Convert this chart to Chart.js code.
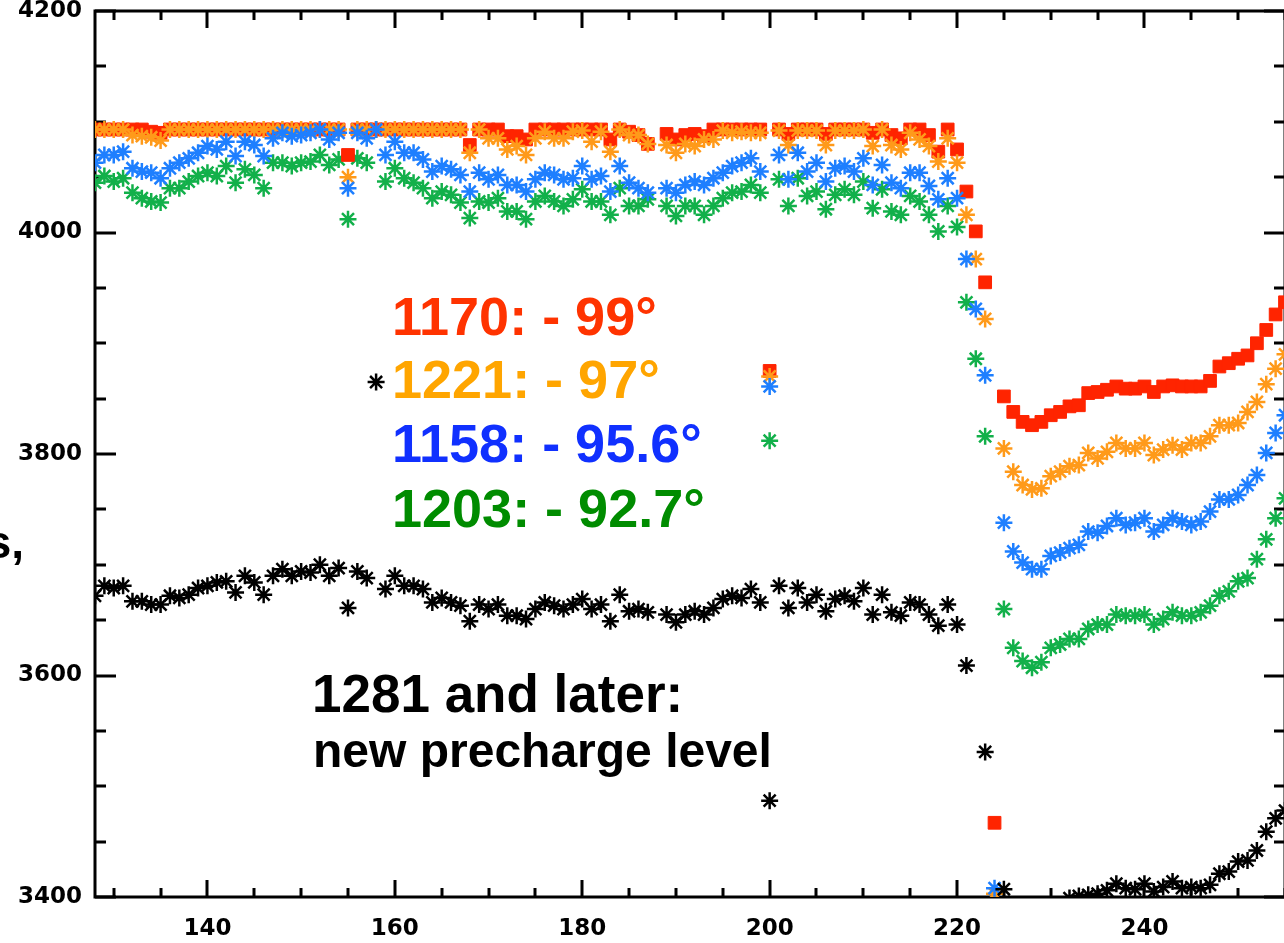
<!DOCTYPE html>
<html><head><meta charset="utf-8">
<script src="https://cdn.jsdelivr.net/npm/chart.js@4.4.1/dist/chart.umd.min.js"></script>
<style>
html,body{margin:0;padding:0;background:#fff;overflow:hidden;width:1284px;height:943px;position:relative;}
#wrap{position:absolute;left:0;top:0;width:1300px;height:943px;}
canvas{display:block;}
.ann{position:absolute;font-family:"Liberation Sans",Arial,sans-serif;font-weight:bold;white-space:nowrap;line-height:1;}
</style></head><body>
<div id="wrap"><canvas id="c" width="1300" height="943"></canvas></div>
<div class="ann" style="left:392px;top:289px;font-size:54px;color:#ff3300;">1170: - 99°</div>
<div class="ann" style="left:392px;top:352px;font-size:54px;color:#ffa500;">1221: - 97°</div>
<div class="ann" style="left:392px;top:416px;font-size:54px;color:#1030ff;">1158: - 95.6°</div>
<div class="ann" style="left:392px;top:481px;font-size:54px;color:#008c00;">1203: - 92.7°</div>
<div class="ann" style="left:312px;top:667px;font-size:53px;color:#000;">1281 and later:</div>
<div class="ann" style="left:313px;top:727px;font-size:48px;color:#000;">new precharge level</div>
<div class="ann" style="left:-200px;width:224px;text-align:right;top:519px;font-size:46px;color:#000;">s,</div>
<script>
// Detector columns (x axis)
const COLUMNS = [128,129,130,131,132,133,134,135,136,137,138,139,140,141,142,143,144,145,146,147,
148,149,150,151,152,153,154,155,156,157,158,159,160,161,162,163,164,165,166,167,
168,169,170,171,172,173,174,175,176,177,178,179,180,181,182,183,184,185,186,187,
188,189,190,191,192,193,194,195,196,197,198,199,200,201,202,203,204,205,206,207,
208,209,210,211,212,213,214,215,216,217,218,219,220,221,222,223,224,225,226,227,
228,229,230,231,232,233,234,235,236,237,238,239,240,241,242,243,244,245,246,247,
248,249,250,251,252,253,254,255];

const X_TICKS = [140,160,180,200,220,240];
const Y_TICKS = [3400,3600,3800,4000,4200];

// 1170: -99°
const S1170 = [
4093,4093,4093,4093,4093,4093,4091,4090,4093,4093,
4093,4093,4093,4093,4093,4093,4093,4093,4093,4093,
4093,4093,4093,4093,4093,4093,4093,4070,4093,4093,
4093,4093,4093,4093,4093,4093,4093,4093,4093,4093,
4079,4093,4093,4093,4087,4087,4084,4093,4093,4093,
4093,4093,4093,4093,4093,4084,4093,4091,4088,4080,
null,4089,4084,4088,4089,4087,4093,4093,4093,4093,
4093,4093,3875,4093,4089,4093,4093,4093,4089,4093,
4093,4093,4093,4090,4093,4088,4085,4093,4093,4088,
4073,4093,4075,4037,4001,3955,3467,3852,3838,3829,
3826,3829,3835,3838,3843,3844,3855,3856,3858,3861,
3859,3859,3861,3856,3861,3862,3861,3861,3861,3866,
3879,3882,3886,3889,3900,3912,3926,3937];

// 1221: -97°
const S1221 = [
4093,4093,4093,4093,4088,4087,4086,4083,4093,4093,
4093,4093,4093,4093,4093,4093,4093,4093,4093,4093,
4093,4093,4093,4093,4093,4093,4093,4050,4093,4093,
4093,4093,4093,4093,4093,4093,4093,4093,4093,4093,
4072,4093,4085,4085,4075,4078,4070,4085,4091,4085,
4085,4091,4092,4082,4091,4073,4093,4088,4088,4080,
null,4079,4072,4080,4078,4084,4084,4092,4090,4091,
4090,4090,3870,4092,4079,4092,4092,4092,4079,4092,
4092,4092,4093,4078,4093,4079,4075,4090,4084,4078,
4064,4085,4063,4016,3976,3922,3403,3805,3784,3772,
3768,3769,3780,3784,3789,3790,3801,3796,3802,3810,
3805,3805,3810,3799,3804,3808,3804,3810,3810,3816,
3826,3826,3828,3838,3847,3863,3877,3890];

// 1158: -95.6°
const S1158 = [
4063,4070,4070,4073,4058,4055,4054,4049,4058,4063,
4067,4072,4078,4075,4082,4069,4082,4079,4069,4085,
4090,4087,4088,4090,4093,4084,4090,4040,4090,4085,
4093,4070,4082,4072,4072,4066,4055,4060,4057,4052,
4037,4054,4048,4052,4043,4043,4037,4048,4054,4052,
4048,4049,4060,4048,4051,4037,4060,4045,4040,4036,
null,4040,4036,4043,4046,4043,4049,4054,4060,4063,
4067,4055,3861,4070,4048,4072,4055,4063,4046,4058,
4060,4055,4067,4043,4061,4045,4040,4054,4054,4042,
4030,4049,4031,3976,3931,3871,3408,3738,3712,3702,
3696,3696,3708,3711,3715,3718,3730,3729,3735,3742,
3736,3738,3742,3730,3736,3742,3739,3736,3739,3748,
3759,3759,3763,3772,3781,3801,3819,3835];

// 1203: -92.7°
const S1203 = [
4045,4051,4046,4049,4036,4031,4028,4027,4040,4040,
4046,4051,4054,4051,4060,4045,4057,4052,4040,4063,
4063,4060,4063,4064,4070,4061,4066,4012,4067,4063,
4093,4046,4058,4049,4045,4040,4031,4037,4034,4027,
4013,4028,4027,4031,4019,4019,4012,4028,4033,4028,
4024,4030,4039,4028,4028,4016,4040,4024,4024,4030,
null,4024,4015,4024,4024,4016,4024,4031,4036,4037,
4043,4036,3812,4048,4024,4049,4033,4037,4021,4034,
4039,4034,4046,4022,4039,4019,4016,4033,4028,4016,
4001,4024,4005,3937,3886,3816,null,3660,3625,3613,
3607,3612,3625,3628,3633,3633,3642,3646,3646,3655,
3654,3654,3655,3646,3651,3657,3654,3654,3657,3663,
3672,3676,3685,3688,3705,3723,3742,3760];

// 1281 and later: new precharge level
const S1281 = [
3672,3681,3679,3681,3667,3667,3664,3664,3672,3670,
3673,3679,3681,3684,3685,3675,3690,3684,3673,3690,
3696,3690,3694,3693,3700,3690,3697,3661,3694,3688,
3865,3678,3690,3681,3681,3678,3666,3670,3666,3663,
3649,3664,3660,3664,3654,3654,3651,3660,3666,3663,
3660,3664,3669,3660,3664,3649,3673,3658,3660,3657,
null,3655,3648,3655,3658,3655,3661,3669,3672,3670,
3678,3666,3487,3681,3661,3679,3666,3673,3658,3669,
3672,3667,3679,3655,3673,3657,3654,3666,3664,3655,
3645,3664,3646,3609,null,3531,null,3407,null,null,
null,null,null,null,3399,3401,3402,3403,3406,3412,
3408,3407,3412,3405,3409,3414,3408,3409,3408,3411,
3421,3423,3432,3433,3442,3459,3471,3478];

const SERIES = [
  {label:'1281', data:S1281, color:'#000000', style:'star', width:2.5, radius:8.5, order:1},
  {label:'1158', data:S1158, color:'#1e7fff', style:'star', width:2.5, radius:8.5, order:2},
  {label:'1221', data:S1221, color:'#ff9a1a', style:'star', width:2.5, radius:8.5, order:3},
  {label:'1170', data:S1170, color:'#ff2400', style:'rect', width:1,   radius:9,   order:4},
  {label:'1203', data:S1203, color:'#12b04a', style:'star', width:2.5, radius:8.5, order:5}
];

const framePlugin = {
  id: 'frame',
  beforeDatasetsDraw(chart) {
    const {ctx, chartArea: a, scales: {x, y}} = chart;
    ctx.save();
    ctx.strokeStyle = '#000';
    ctx.lineWidth = 3;
    ctx.strokeRect(a.left, a.top, a.right - a.left, a.bottom - a.top);
    ctx.beginPath();
    for (let v = 130; v <= x.max; v += 5) {
      const px = Math.round(x.getPixelForValue(v));
      const len = (v % 20 === 0) ? 17 : 9;
      ctx.moveTo(px, a.bottom); ctx.lineTo(px, a.bottom - len);
      ctx.moveTo(px, a.top); ctx.lineTo(px, a.top + len);
    }
    for (let v = y.min; v <= y.max; v += 50) {
      const py = Math.round(y.getPixelForValue(v));
      const len = (v % 200 === 0) ? 21 : 11;
      ctx.moveTo(a.left, py); ctx.lineTo(a.left + len, py);
      ctx.moveTo(a.right, py); ctx.lineTo(a.right - len, py);
    }
    ctx.stroke();
    ctx.restore();
  }
};

const tickFont = {family: '"DejaVu Sans", sans-serif', size: 23, weight: 'bold'};

new Chart(document.getElementById('c'), {
  type: 'line',
  data: {
    labels: COLUMNS,
    datasets: SERIES.map(s => ({
      label: s.label,
      data: s.data,
      showLine: false,
      pointStyle: s.style,
      pointRadius: s.radius,
      pointBorderWidth: s.width,
      pointBorderColor: s.color,
      pointBackgroundColor: s.color,
      order: s.order,
      clip: 0
    }))
  },
  options: {
    responsive: false,
    animation: false,
    events: [],
    layout: {padding: {top: 9, right: 15, left: 0, bottom: 0}},
    plugins: {legend: {display: false}, tooltip: {enabled: false}},
    scales: {
      x: {
        type: 'linear', min: 128, max: 255,
        grid: {display: false, drawTicks: false},
        border: {display: false},
        afterBuildTicks: s => { s.ticks = X_TICKS.map(v => ({value: v})); },
        afterFit: s => { s.height = 46; s.paddingLeft = 0; s.paddingRight = 0; },
        ticks: {font: tickFont, color: '#000', padding: 18, maxRotation: 0, autoSkip: false,
                callback: v => String(v)}
      },
      y: {
        type: 'linear', min: 3400, max: 4200,
        grid: {display: false, drawTicks: false},
        border: {display: false},
        afterBuildTicks: s => { s.ticks = Y_TICKS.map(v => ({value: v})); },
        afterFit: s => { s.width = 95; s.paddingTop = 0; s.paddingBottom = 0; },
        ticks: {font: tickFont, color: '#000', padding: 13, autoSkip: false,
                callback: v => String(v)}
      }
    }
  },
  plugins: [framePlugin]
});
</script>
</body></html>
